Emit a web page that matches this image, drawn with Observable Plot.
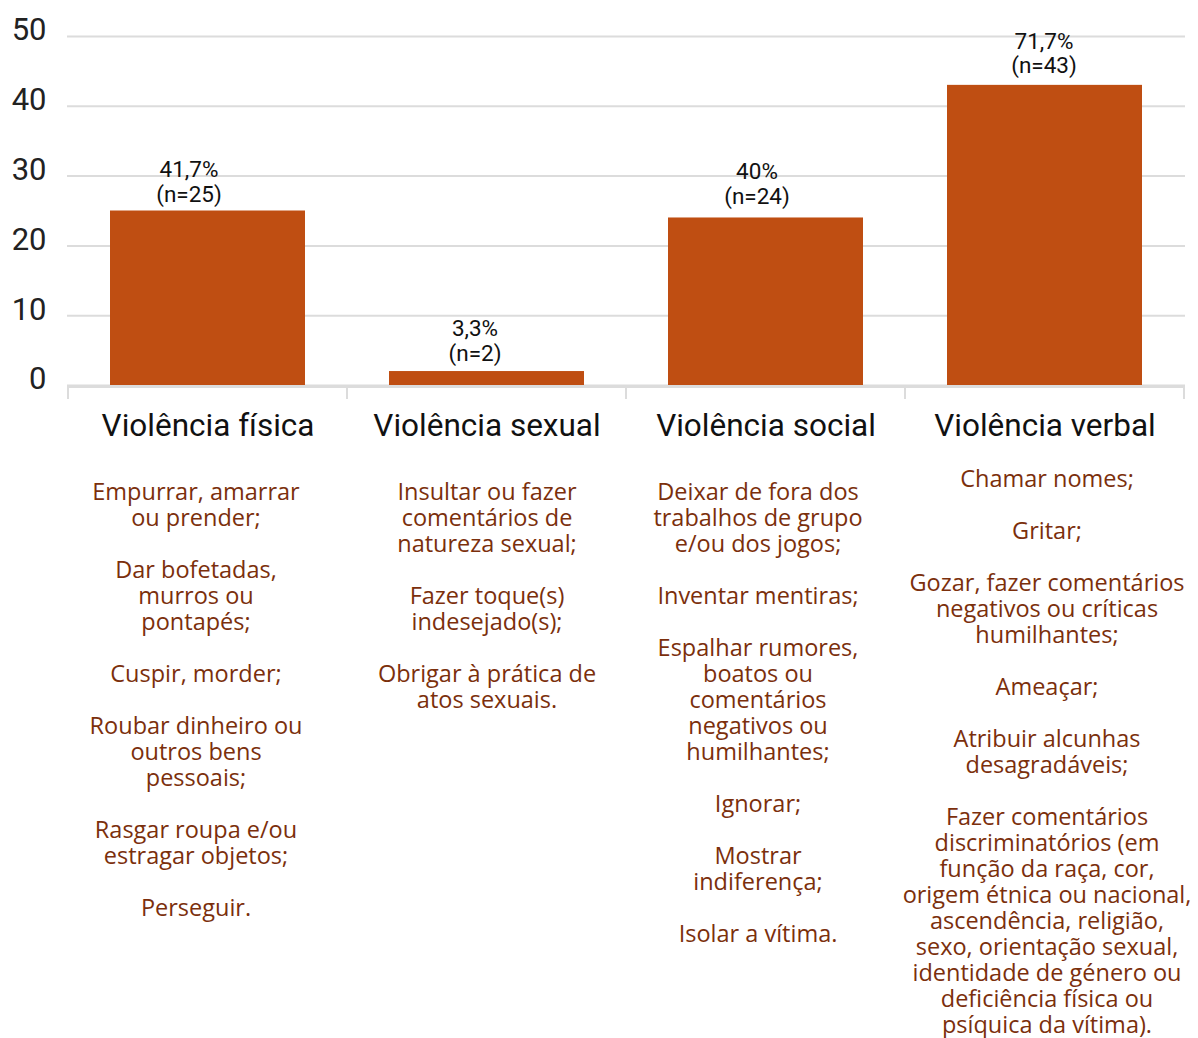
<!DOCTYPE html>
<html><head><meta charset="utf-8">
<script src="https://cdn.jsdelivr.net/npm/d3@7"></script>
<script src="https://cdn.jsdelivr.net/npm/@observablehq/plot@0.6"></script>
<style>body{margin:0;background:#fff}</style>
</head><body><div id="chart"></div>
<script>
const categories = ["Violência física", "Violência sexual", "Violência social", "Violência verbal"];
const counts = [25, 2, 24, 43];
const percentLabels = ["41,7%", "3,3%", "40%", "71,7%"];
const yTicks = [0, 10, 20, 30, 40, 50];
const descFisica = ["Empurrar, amarrar\nou prender;", "Dar bofetadas,\nmurros ou\npontapés;", "Cuspir, morder;", "Roubar dinheiro ou\noutros bens\npessoais;", "Rasgar roupa e/ou\nestragar objetos;", "Perseguir."];
const descSexual = ["Insultar ou fazer\ncomentários de\nnatureza sexual;", "Fazer toque(s)\nindesejado(s);", "Obrigar à prática de\natos sexuais."];
const descSocial = ["Deixar de fora dos\ntrabalhos de grupo\ne/ou dos jogos;", "Inventar mentiras;", "Espalhar rumores,\nboatos ou\ncomentários\nnegativos ou\nhumilhantes;", "Ignorar;", "Mostrar\nindiferença;", "Isolar a vítima."];
const descVerbal = ["Chamar nomes;", "Gritar;", "Gozar, fazer comentários\nnegativos ou críticas\nhumilhantes;", "Ameaçar;", "Atribuir alcunhas\ndesagradáveis;", "Fazer comentários\ndiscriminatórios (em\nfunção da raça, cor,\norigem étnica ou nacional,\nascendência, religião,\nsexo, orientação sexual,\nidentidade de género ou\ndeficiência física ou\npsíquica da vítima)."];
const descriptions = [descFisica, descSexual, descSocial, descVerbal];

const data = categories.map((c, i) => ({
  category: c,
  n: counts[i],
  label: `${percentLabels[i]}\n(n=${counts[i]})`,
  desc: descriptions[i].join("\n\n")
}));

// small per-column text nudges (pixels) to mimic the original layout
const labelDx = [-19, -12, -9, -1];
const labelDy = [-9, -11, -14, -12];
const descDx = [-12, 0, -8, 2];
const descDy = [96, 96, 96, 83];

const plot = Plot.plot({
  width: 1198,
  height: 1038,
  marginLeft: 67,
  marginRight: 13,
  marginTop: 36,
  marginBottom: 653,
  style: {fontFamily: "Roboto, sans-serif", background: "#fff", overflow: "visible"},
  x: {domain: categories, paddingInner: 0.3, paddingOuter: 0.15, label: null},
  y: {domain: [0, 50], ticks: yTicks, label: null},
  marks: [
    Plot.gridY(yTicks, {stroke: "#dcdcdc", strokeOpacity: 1, strokeWidth: 2}),
    Plot.axisY(yTicks, {tickSize: 0, tickPadding: 21, fontSize: 31, fill: "#222", dy: -6, label: null}),
    Plot.barY(data, {x: "category", y: "n", fill: "#bf4e12"}),
    Plot.ruleY([0], {stroke: "#dcdcdc", strokeWidth: 3, dy: 1}),
    Plot.axisX({tickSize: 0, tickPadding: 28, fontSize: 31.5, fill: "#111", label: null}),
    ...categories.map((c, i) => Plot.text(data.filter(d => d.category === c), {
      x: "category", y: "n", text: "label", lineAnchor: "bottom", dy: labelDy[i], dx: labelDx[i],
      fontSize: 22.5, fill: "#111", lineHeight: 1.1, letterSpacing: "0.3px"
    })),
    ...categories.map((c, i) => Plot.text(data.filter(d => d.category === c), {
      x: "category", text: "desc", frameAnchor: "bottom", lineAnchor: "top", dy: descDy[i], dx: descDx[i],
      fontSize: 23.5, fontFamily: "Open Sans", fill: "#7b2f0c", lineHeight: 26 / 23.5
    }))
  ]
});

// tick marks at the band boundaries, derived from the x band scale
const xs = plot.scale("x");
const y0 = plot.scale("y").apply(0);
const gap = (xs.step - xs.bandwidth) / 2;
const bounds = categories.map(c => xs.apply(c) - gap).concat([xs.apply(categories[categories.length - 1]) + xs.bandwidth + gap]);
d3.select(plot).append("g")
  .selectAll("line").data(bounds).join("line")
  .attr("x1", d => d).attr("x2", d => d)
  .attr("y1", y0 + 2).attr("y2", y0 + 14)
  .attr("stroke", "#dcdcdc").attr("stroke-width", 2);

document.getElementById("chart").appendChild(plot);
</script>
</body></html>
